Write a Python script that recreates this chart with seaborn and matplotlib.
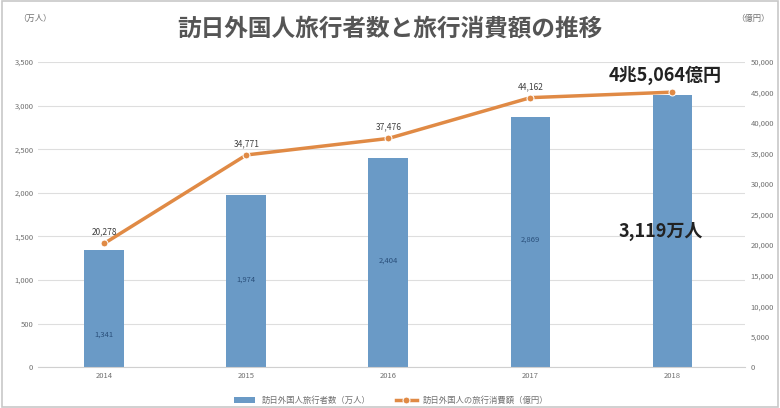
import pandas as pd
import seaborn as sns
import matplotlib.pyplot as plt
from matplotlib.ticker import FuncFormatter
from matplotlib.patches import Rectangle

plt.rcParams['font.family'] = 'Noto Sans CJK JP'

# data
years = ['2014', '2015', '2016', '2017', '2018']
visitors = [1341, 1974, 2404, 2869, 3119]          # 万人
spending = [20278, 34771, 37476, 44162, 45064]     # 億円
visitor_labels = ['1,341', '1,974', '2,404', '2,869', '']
spending_labels = ['20,278', '34,771', '37,476', '44,162', '']

df = pd.DataFrame({'year': years, 'visitors': visitors, 'spending': spending})

bar_color = '#5b9bd5'
line_color = '#e08a45'
tick_color = '#707070'

fig = plt.figure(figsize=(7.8, 4.08), dpi=100)
fig.patches.append(Rectangle((0.003, 0.003), 0.994, 0.994, transform=fig.transFigure,
                             fill=False, edgecolor='#c8c8c8', lw=1.2))
ax = fig.add_axes([0.049, 0.10, 0.906, 0.748])

sns.barplot(data=df, x='year', y='visitors', color=bar_color, width=0.28, ax=ax,
            label='訪日外国人旅行者数（万人）', zorder=2)
ax.set_xlim(-0.465, 4.51)
ax.set_ylim(0, 3500)
ax.set_yticks(range(0, 3501, 500))
ax.yaxis.set_major_formatter(FuncFormatter(lambda v, p: f'{int(v):,}'))
ax.grid(axis='y', color='#dedede', lw=0.8, zorder=0)
ax.set_axisbelow(True)
ax.set_xlabel('')
ax.set_ylabel('')
for s in ax.spines.values():
    s.set_visible(False)
ax.spines['bottom'].set_visible(True)
ax.spines['bottom'].set_color('#d0d0d0')
ax.tick_params(length=0, labelsize=5.5, colors=tick_color)
for i, lab in enumerate(visitor_labels):
    if lab:
        frac = 0.28 if i == 0 else 0.51
        ax.text(i, visitors[i] * frac, lab, ha='center', va='center',
                fontsize=5.5, color='#2a4f7a')
ax.text(3.92, 1560, '3,119万人', ha='center', va='center', fontsize=13,
        fontweight='bold', color='#222222')

ax2 = ax.twinx()
sns.lineplot(data=df, x='year', y='spending', color=line_color, lw=2.5, marker='o',
             markersize=5, ax=ax2, label='訪日外国人の旅行消費額（億円）', legend=False, zorder=3)
ax2.set_xlim(-0.465, 4.51)
ax2.set_ylim(0, 50000)
ax2.set_yticks(range(0, 50001, 5000))
ax2.yaxis.set_major_formatter(FuncFormatter(lambda v, p: f'{int(v):,}'))
ax2.set_ylabel('')
for s in ax2.spines.values():
    s.set_visible(False)
ax2.tick_params(length=0, labelsize=5.5, colors=tick_color, pad=4)
for i, lab in enumerate(spending_labels):
    if lab:
        ax2.text(i, spending[i] + 1100, lab, ha='center', va='bottom', fontsize=6, color='#404040')
ax2.text(3.95, 46300, '4兆5,064億円', ha='center', va='bottom', fontsize=13,
         fontweight='bold', color='#222222')

fig.text(0.5, 0.93, '訪日外国人旅行者数と旅行消費額の推移', ha='center', va='center',
         fontsize=17, fontweight='bold', color='#555555')
fig.text(0.045, 0.955, '（万人）', ha='center', va='center', fontsize=6, color=tick_color)
fig.text(0.965, 0.955, '（億円）', ha='center', va='center', fontsize=6, color=tick_color)

h1, l1 = ax.get_legend_handles_labels()
h2, l2 = ax2.get_legend_handles_labels()
ax.legend(h1 + h2, l1 + l2, loc='upper center', bbox_to_anchor=(0.5, -0.07), ncol=2,
          frameon=False, fontsize=6, labelcolor=tick_color, handlelength=2.5, columnspacing=3)

fig.savefig('out.png', dpi=100)
